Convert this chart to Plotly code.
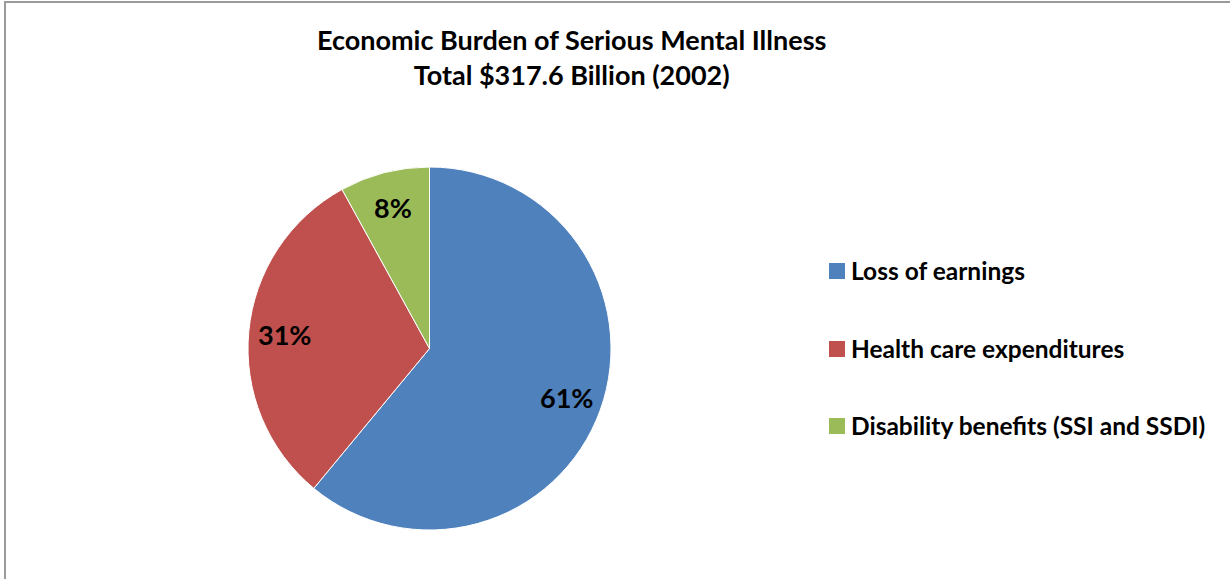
import math
import plotly.graph_objects as go

categories = ["Loss of earnings", "Health care expenditures", "Disability benefits (SSI and SSDI)"]
shares = [61, 31, 8]
colors = ["#4F81BD", "#C0504D", "#9BBB59"]
title_lines = ["Economic Burden of Serious Mental Illness", "Total $317.6 Billion (2002)"]

W, H = 1230, 579
FONT = "Lato"

# pie geometry (pixels)
PX0, PX1, PY0, PY1 = 248, 611, 167, 530
cx, cy, R = (PX0 + PX1) / 2, (PY0 + PY1) / 2, (PX1 - PX0) / 2

fig = go.Figure()
fig.add_trace(go.Pie(
    labels=categories,
    values=shares,
    sort=False,
    direction="clockwise",
    rotation=0,
    marker=dict(colors=colors, line=dict(color="white", width=1)),
    textinfo="none",
    showlegend=False,
    hoverinfo="label+percent",
    domain=dict(x=[PX0 / W, PX1 / W], y=[1 - PY1 / H, 1 - PY0 / H]),
))

annotations = []
shapes = []

# percentage labels placed along each slice bisector
total = sum(shares)
cum = 0
for v in shares:
    mid = (cum + v / 2) / total * 2 * math.pi
    cum += v
    r = 0.8 * R
    lx = cx + r * math.sin(mid)
    ly = cy - r * math.cos(mid)
    annotations.append(dict(
        text="<b>%d%%</b>" % round(v / total * 100),
        x=lx / W, y=1 - ly / H, xref="paper", yref="paper",
        xanchor="center", yanchor="middle", showarrow=False,
        font=dict(family=FONT, size=27, color="black"),
    ))

# title
annotations.append(dict(
    text="<b>" + title_lines[0] + "<br>" + title_lines[1] + "</b>",
    x=571 / W, y=1 - 57 / H, xref="paper", yref="paper",
    xanchor="center", yanchor="middle", showarrow=False,
    font=dict(family=FONT, size=27, color="black"), align="center",
))
# legend
leg_y = [271, 349, 426]
for cat, col, yy in zip(categories, colors, leg_y):
    shapes.append(dict(type="rect", xref="paper", yref="paper",
                       x0=829 / W, x1=845 / W, y0=1 - (yy + 8) / H, y1=1 - (yy - 8) / H,
                       fillcolor=col, line=dict(width=0)))
    annotations.append(dict(
        text="<b>" + cat + "</b>", x=849 / W, y=1 - (yy - 1) / H, xref="paper", yref="paper",
        xanchor="left", yanchor="middle", showarrow=False,
        font=dict(family=FONT, size=24.5, color="black"),
    ))
# chart border
shapes.append(dict(type="rect", xref="paper", yref="paper",
                   x0=5 / W, x1=1240 / W, y0=-0.05, y1=1 - 2 / H,
                   line=dict(color="#9a9a9a", width=2), fillcolor="rgba(0,0,0,0)"))

fig.update_layout(
    width=W, height=H,
    margin=dict(l=0, r=0, t=0, b=0),
    paper_bgcolor="white", plot_bgcolor="white",
    annotations=annotations, shapes=shapes,
)
fig.write_html("out.html")
